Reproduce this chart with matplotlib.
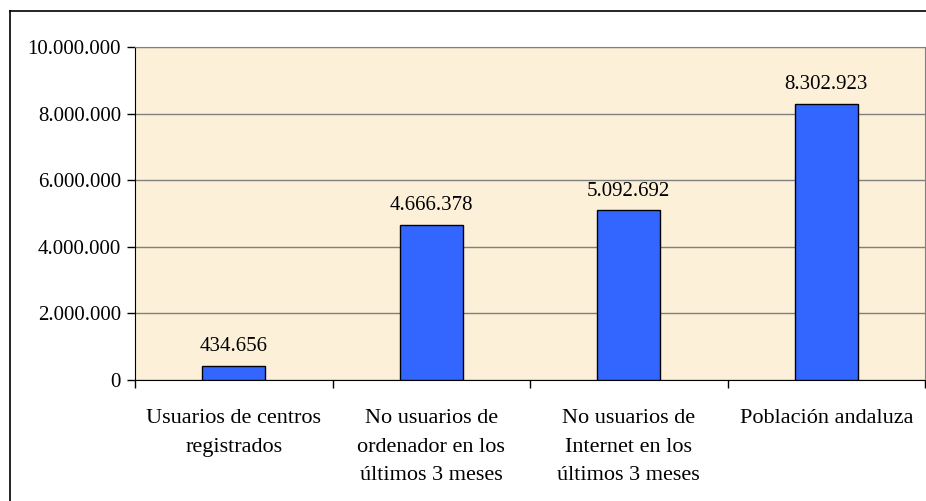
import matplotlib
matplotlib.use("Agg")
import matplotlib.pyplot as plt
from matplotlib.ticker import FuncFormatter, MultipleLocator
import numpy as np

categories = ["Usuarios de centros\nregistrados",
              "No usuarios de\nordenador en los\núltimos 3 meses",
              "No usuarios de\nInternet en los\núltimos 3 meses",
              "Población andaluza"]
values = [434656, 4666378, 5092692, 8302923]

def fmt(v):
    return f"{int(v):,}".replace(",", ".")

plt.rcParams['font.family'] = ['Liberation Serif', 'DejaVu Serif']
fig = plt.figure(figsize=(9.26, 5.01), dpi=100)
W, H = 926, 501
ax = fig.add_axes([135 / W, 1 - 380 / H, (925 - 135) / W, (380 - 47) / H])
ax.set_facecolor("#FCF0D8")

x = np.arange(len(values))
ax.bar(x, values, width=0.32, color="#3366FF", edgecolor="black", linewidth=1.0, zorder=3)
for xi, v in zip(x, values):
    ax.text(xi, v + 280000, fmt(v), ha="center", va="bottom", fontsize=15, zorder=4)

ax.set_xlim(-0.5, len(values) - 0.5)
ax.set_ylim(0, 10000000)
ax.yaxis.set_major_locator(MultipleLocator(2000000))
ax.yaxis.set_major_formatter(FuncFormatter(lambda v, p: fmt(v)))
ax.grid(axis="y", color="#808080", linewidth=1.0, zorder=1)

ax.set_xticks(x)
ax.set_xticklabels(categories, fontsize=16, linespacing=1.68)
ax.tick_params(axis="x", length=0, pad=21)
ax.set_xticks(np.arange(len(values) + 1) - 0.5, minor=True)
ax.tick_params(axis="x", which="minor", length=6, width=1, color="black", direction="out")
ax.tick_params(axis="y", length=6, width=1, color="black", direction="out", labelsize=15, pad=4)

for s in ["top", "right"]:
    ax.spines[s].set_color("#808080")
ax.spines["left"].set_color("black")
ax.spines["bottom"].set_color("black")

# outer chart border (left and top visible)
fig.add_artist(plt.Line2D([10 / W, 10 / W], [0, 1 - 11 / H], color="black", linewidth=1.2, transform=fig.transFigure))
fig.add_artist(plt.Line2D([10 / W, 1], [1 - 11 / H, 1 - 11 / H], color="black", linewidth=1.2, transform=fig.transFigure))

fig.savefig("out.png", dpi=100)
